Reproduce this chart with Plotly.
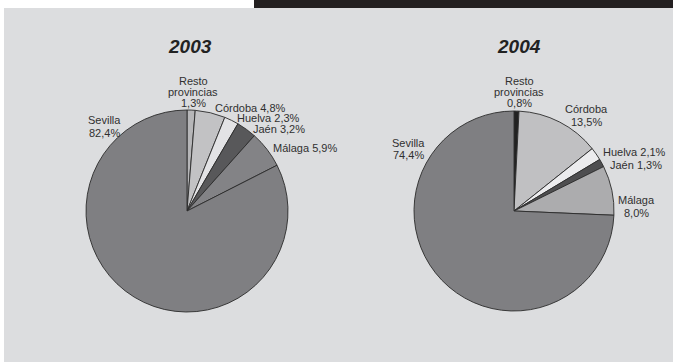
import plotly.graph_objects as go

W, H = 673, 362

provincias = ["Resto provincias", "Córdoba", "Huelva", "Jaén", "Málaga", "Sevilla"]
valores_2003 = [1.3, 4.8, 2.3, 3.2, 5.9, 82.4]
valores_2004 = [0.8, 13.5, 2.1, 1.3, 8.0, 74.4]
anios = ["2003", "2004"]

colores_2003 = ["#b6b6b8", "#c2c2c4", "#e3e3e5", "#58585a", "#838386", "#7f7f82"]
colores_2004 = ["#222222", "#c0c0c2", "#ececee", "#4e4e50", "#acacae", "#7f7f82"]

# label placement (pixel x, pixel y of first line, anchor, multi-line?)
pos_2003 = [(193, 81, "center", True), (213, 107.5, "left", False), (235, 118, "left", False),
            (251, 129, "left", False), (271, 148, "left", False), (104.5, 120, "center", True)]
pos_2004 = [(519, 81, "center", True), (586, 109, "center", True), (601, 152, "left", False),
            (608, 165, "left", False), (636, 200, "center", True), (409, 143, "center", True)]

def px(x):
    return x / W

def py(y):
    return 1 - y / H

def fmt(v):
    return f"{v:.1f}".replace(".", ",") + "%"

fig = go.Figure()

domains = [
    dict(x=[px(86), px(288)], y=[py(312), py(110)]),
    dict(x=[px(414), px(614)], y=[py(311), py(111)]),
]

for vals, cols, dom in zip([valores_2003, valores_2004], [colores_2003, colores_2004], domains):
    fig.add_trace(go.Pie(
        labels=provincias, values=vals, sort=False, direction="clockwise", rotation=0,
        marker=dict(colors=cols, line=dict(color="#2b2b2b", width=0.9)),
        textinfo="none", hoverinfo="label+percent", showlegend=False, domain=dom,
    ))

shapes = [
    dict(type="rect", xref="paper", yref="paper", x0=px(4), x1=1, y0=0, y1=py(8),
         fillcolor="#dcdddf", line=dict(width=0), layer="below"),
    dict(type="rect", xref="paper", yref="paper", x0=px(254), x1=1, y0=py(8), y1=1,
         fillcolor="#231f20", line=dict(width=0), layer="below"),
]

annotations = []
lfont = dict(family="Liberation Sans, Arial, sans-serif", size=11, color="#303030")
for vals, poss in [(valores_2003, pos_2003), (valores_2004, pos_2004)]:
    for name, v, (x, y, anchor, multi) in zip(provincias, vals, poss):
        if multi:
            lines = name.split(" ") + [fmt(v)]
            step = 11 if len(lines) == 3 else 12.5
        else:
            lines = [f"{name} {fmt(v)}"]
            step = 12
        for i, t in enumerate(lines):
            annotations.append(dict(text=t, x=px(x), y=py(y + i * step), xref="paper", yref="paper",
                                    xanchor=anchor, yanchor="middle", showarrow=False, font=lfont))

tfont = dict(family="Liberation Sans, Arial, sans-serif", size=19, color="#222222")
for a, x in zip(anios, [190, 519]):
    annotations.append(dict(text=f"<b><i>{a}</i></b>", x=px(x), y=py(46), xref="paper", yref="paper",
                            xanchor="center", yanchor="middle", showarrow=False, font=tfont))

fig.update_layout(
    width=W, height=H, margin=dict(l=0, r=0, t=0, b=0),
    paper_bgcolor="white", plot_bgcolor="white",
    shapes=shapes, annotations=annotations,
)

fig.write_html(
    "out.html",
    config={"displayModeBar": False},
    post_script="document.body.style.margin='0';document.body.style.overflow='hidden';",
)
